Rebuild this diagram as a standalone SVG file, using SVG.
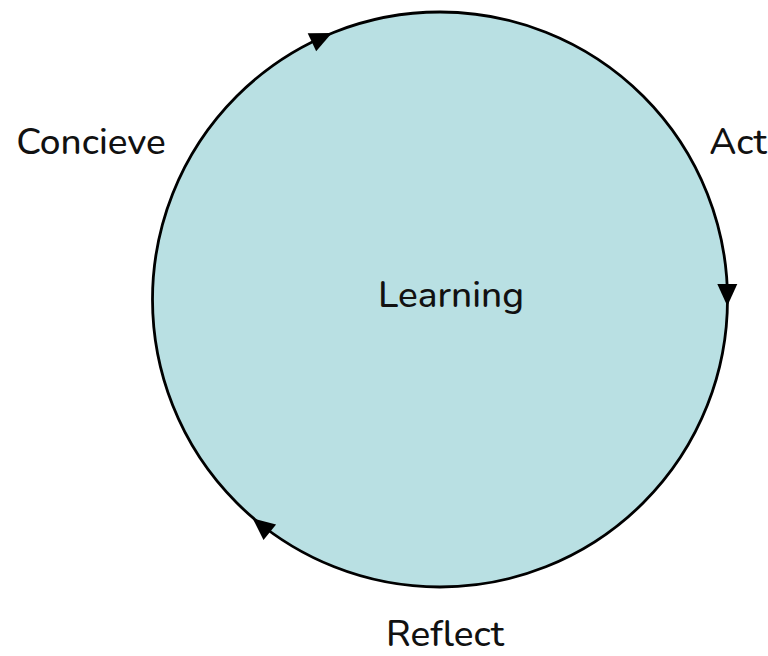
<svg xmlns="http://www.w3.org/2000/svg" width="768" height="656" viewBox="0 0 768 656">
<style>
text{font-family:"Nunito","Noto Sans","Liberation Sans",sans-serif;font-size:37px;font-weight:500;fill:#111;}
.arr{fill:#000;}
</style>
<defs>
<path id="ah" d="M12,0 L-10,-10 L-10,10 Z"/>
</defs>
<rect width="768" height="656" fill="#fff"/>
<g id="cycle">
<circle cx="440" cy="299.5" r="287.5" fill="#b9e0e3" stroke="#000" stroke-width="2.8"/>
</g>
<g id="connectors">
<use href="#ah" class="arr" transform="translate(321,38) rotate(-25)"/>
<use href="#ah" class="arr" transform="translate(727.3,294) rotate(90)"/>
<use href="#ah" class="arr" transform="translate(262,526) rotate(219)"/>
</g>
<g id="learning"><text x="451" y="307" text-anchor="middle">Learning</text></g>
<g id="concieve"><text x="91" y="154" text-anchor="middle">Concieve</text></g>
<g id="act"><text x="738" y="154" text-anchor="middle">Act</text></g>
<g id="reflect"><text x="445" y="646" text-anchor="middle">Reflect</text></g>
</svg>
